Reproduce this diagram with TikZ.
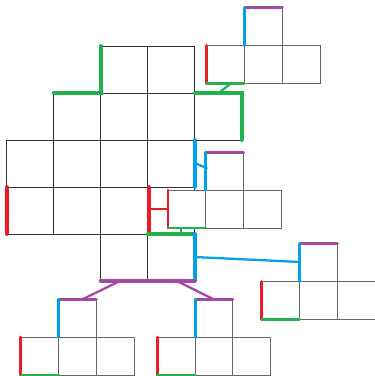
\documentclass[tikz,border=0pt]{standalone}
\usepackage{tikz}
\usetikzlibrary{positioning}
\begin{document}
\begin{tikzpicture}[
    x=0.02cm, y=-0.02cm,
    grid_line/.style={draw=black!80, line width=0.55pt},
    piece_line/.style={draw=black!60, line width=0.55pt, fill=white},
    edge_red/.style={draw=cred, line width=2.2pt, line cap=round},
    edge_green/.style={draw=cgreen, line width=2.2pt, line cap=round},
    edge_blue/.style={draw=cblue, line width=2.2pt, line cap=round},
    edge_purple/.style={draw=cpurple, line width=2.2pt, line cap=round},
    thin_edge/.style={line width=1.7pt},
    link/.style={line width=1.3pt}
]

  % --- Color Definitions ---
  \definecolor{cred}{RGB}{237, 28, 36}
  \definecolor{cgreen}{RGB}{34, 177, 76}
  \definecolor{cblue}{RGB}{0, 162, 232}
  \definecolor{cpurple}{RGB}{163, 73, 164}

  \useasboundingbox (0,0) rectangle (375,376);

  % --- Main grid (cell = 47) ---
  \foreach \c/\r in {2/0,3/0, 1/1,2/1,3/1,4/1, 0/2,1/2,2/2,3/2, 0/3,1/3,2/3,3/3, 2/4,3/4} {
    \draw[grid_line] (6.7+\c*47, 46+\r*47) rectangle ++(47,47);
  }

  % --- Pieces (cell = 37.8), given by lower left corner ---
  \foreach \px/\py in {206.7/83.5, 168/228, 261.7/319.5, 20.7/375, 157.3/375} {
    \begin{scope}[shift={(\px,\py)}]
      \foreach \k in {0,1,2} \filldraw[piece_line] (\k*37.8,0) rectangle ++(37.8,-37.8);
      \filldraw[piece_line] (37.8,-37.8) rectangle ++(37.8,-37.8);
      \draw[edge_purple, thin_edge] (37.8,-75.6) -- (75.6,-75.6);
      \draw[edge_blue, thin_edge]   (37.8,-75.6) -- (37.8,-37.8);
      \draw[edge_red, thin_edge]    (0,0) -- (0,-37.8);
      \draw[edge_green, thin_edge]  (0,0) -- (37.8,0);
    \end{scope}
  }

  % --- Coloured edges of main grid ---
  \draw[edge_green]  (53.7,93) -- (100.7,93) -- (100.7,46);
  \draw[edge_green]  (194.7,93) -- (241.7,93) -- (241.7,140);
  \draw[edge_blue]   (194.7,140) -- (194.7,187);
  \draw[edge_red]    (6.7,187) -- (6.7,234);
  \draw[edge_red]    (148.7,187) -- (148.7,234);
  \draw[edge_green]  (147.7,234) -- (194.7,234);
  \draw[edge_blue]   (194.7,234) -- (194.7,281);
  \draw[edge_purple] (100.7,281) -- (194.7,281);

  % --- Link ends ---
  \coordinate (g1top) at (230,84);
  \coordinate (g1bot) at (220,92);
  \coordinate (b2main) at (194.7,163);
  \coordinate (b2piece) at (206.7,168);
  \coordinate (r2main) at (148.7,209.3);
  \coordinate (r2piece) at (168,209.3);
  \coordinate (g2piece) at (181,228);
  \coordinate (g2main) at (181,234);
  \coordinate (b3main) at (194.7,257);
  \coordinate (b3piece) at (300,262);
  \coordinate (p4main) at (120,281);
  \coordinate (p4piece) at (83,299);
  \coordinate (p5main) at (177,281);
  \coordinate (p5piece) at (213,299);

  % --- Links ---
  \draw[edge_green, link]  (g1top) -- (g1bot);
  \draw[edge_blue, link]   (b2main) -- (b2piece);
  \draw[edge_red, link]    (r2main) -- (r2piece);
  \draw[edge_green, link]  (g2piece) -- (g2main);
  \draw[edge_blue, link]   (b3main) -- (b3piece);
  \draw[edge_purple, link] (p4main) -- (p4piece);
  \draw[edge_purple, link] (p5main) -- (p5piece);

\end{tikzpicture}
\end{document}
